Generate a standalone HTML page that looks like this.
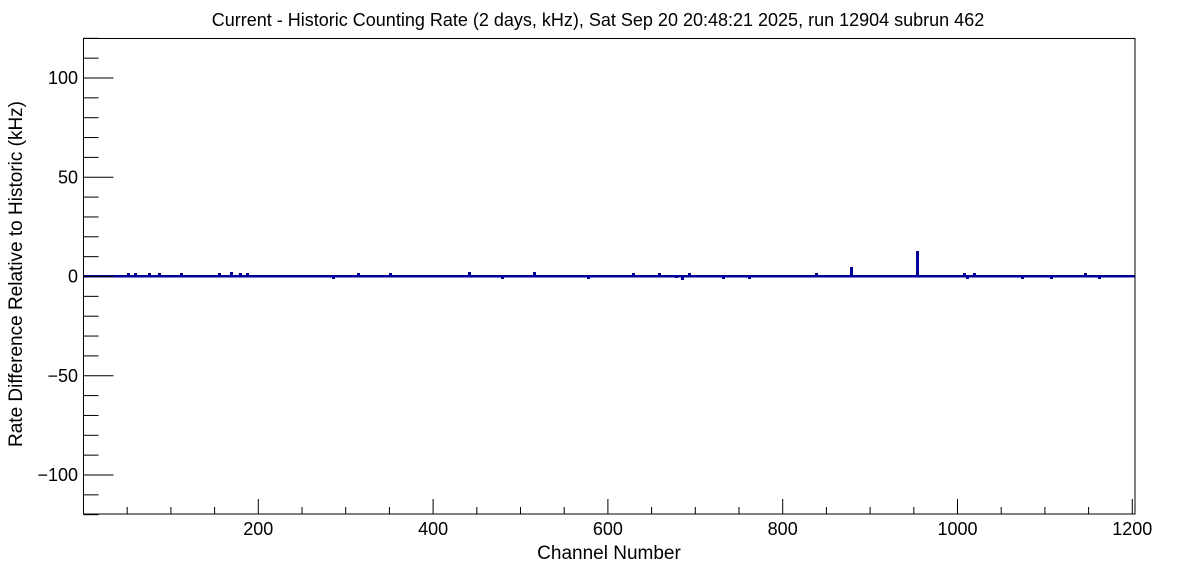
<!DOCTYPE html>
<html><head><meta charset="utf-8"><style>
html,body{margin:0;padding:0;background:#fff;}
svg{display:block;font-family:"Liberation Sans",sans-serif;}
</style></head><body>
<svg id="s" width="1196" height="572" xmlns="http://www.w3.org/2000/svg">
<rect width="1196" height="572" fill="#fff"/>
<text x="598" y="26" font-size="18" text-anchor="middle">Current - Historic Counting Rate (2 days, kHz), Sat Sep 20 20:48:21 2025, run 12904 subrun 462</text>
<g id="data" fill="#000099"></g>
<rect x="83.5" y="38.5" width="1051.5" height="475.5" fill="none" stroke="#000" stroke-width="1"/>
<g id="ticks" stroke="#000" stroke-width="1"></g>
<g id="labels" font-size="18"></g>
<text x="609" y="559" font-size="19" text-anchor="middle">Channel Number</text>
<text transform="translate(22,274) rotate(-90)" font-size="19" text-anchor="middle">Rate Difference Relative to Historic (kHz)</text>
</svg>
<script>
var NS="http://www.w3.org/2000/svg";
function el(p,t,a,txt){var e=document.createElementNS(NS,t);for(var k in a)e.setAttribute(k,a[k]);if(txt)e.textContent=txt;document.getElementById(p).appendChild(e);}
function Y(v){return 276.5-v*1.985;}
function X(c){return 83.5+c*0.874;}
for(var v=-120;v<=120;v+=10){var y=Y(v);var maj=(v%50===0);
 el("ticks","line",{x1:83.5,x2:83.5+(maj?30:15),y1:y,y2:y});
 if(maj){el("labels","text",{x:78,y:y+6,"text-anchor":"end"},(v<0?"\u2212":"")+Math.abs(v));}}
for(var c=50;c<=1200;c+=50){var x=X(c);var maj=(c%200===0);
 el("ticks","line",{x1:x,x2:x,y1:514,y2:514-(maj?15:7)});
 if(maj){el("labels","text",{x:x,y:535,"text-anchor":"middle"},""+c);}}
el("data","rect",{x:83.5,y:275,width:1051,height:2.5});
var up=[[128,273],[135,273],[149,273],[159,273],[181,273],[219,273],[231,272],[240,273],[247,273],[358,273],[390,273],[469,272],[534,272],[633,273],[659,273],[689,273],[816,273],[851,267],[917,251],[964,273],[974,273],[1085,273]];
var dn=[[333,279],[502,279],[588,279],[676,278],[682,280],[723,279],[749,279],[967,279],[1022,279],[1051,279],[1099,279]];
up.forEach(function(p){el("data","rect",{x:p[0]-1,y:p[1],width:3,height:276-p[1]});});
dn.forEach(function(p){el("data","rect",{x:p[0]-1,y:276,width:3,height:p[1]-276});});
</script>
</body></html>
